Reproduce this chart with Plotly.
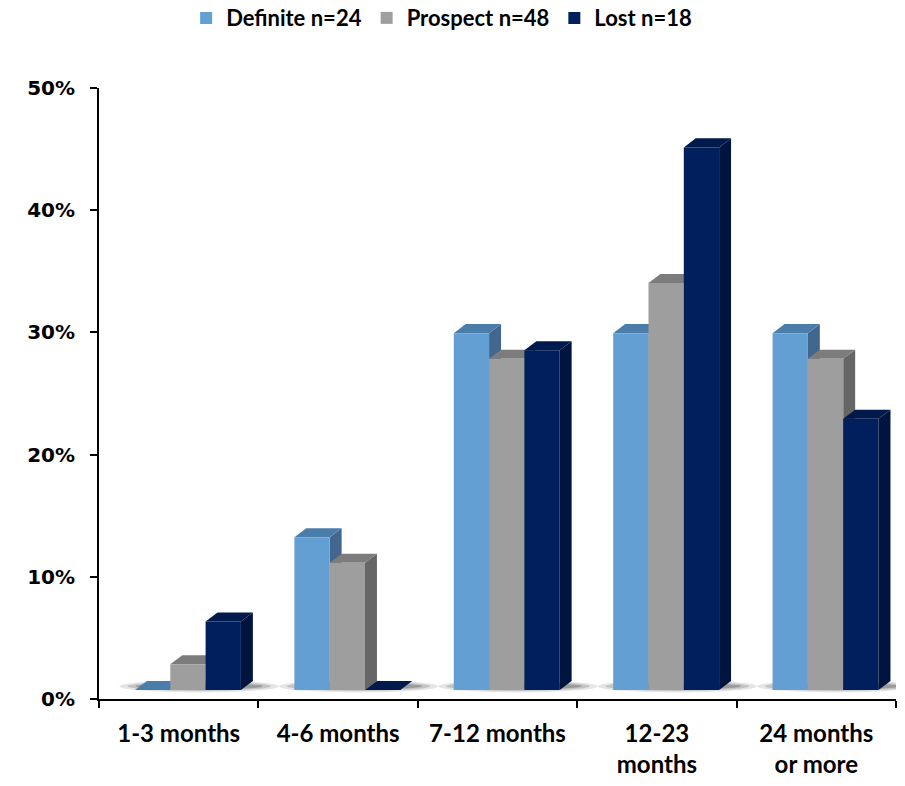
import plotly.graph_objects as go

# Share of respondents by time frame, per status group (percent)
categories = ["1-3 months", "4-6 months", "7-12 months", "12-23<br>months", "24 months<br>or more"]
series_names = ["Definite n=24", "Prospect n=48", "Lost n=18"]
definite = [0.0, 12.5, 29.2, 29.2, 29.2]
prospect = [2.1, 10.4, 27.1, 33.3, 27.1]
lost = [5.6, 0.0, 27.8, 44.4, 22.2]
y_ticks = [0, 10, 20, 30, 40, 50]

values = [definite, prospect, lost]
front_colors = ["#649fd3", "#9e9e9e", "#001f5c"]
top_colors = ["#4b7dab", "#7c7c7c", "#001a4c"]
side_colors = ["#41678f", "#666666", "#001440"]

# pseudo-3D geometry (data units)
BAR_W = 0.2215        # width of each bar front
GROUP_SHIFT = 0.058   # fronts sit slightly right of the category centre
DEPTH_DX = 0.075      # receding depth, horizontal
DEPTH_DY = 0.74       # receding depth, vertical
FLOOR = 0.74          # floor of the bars, set back from the axis plane


def poly(pts):
    return "M " + " L ".join(f"{x:.4f},{y:.4f}" for x, y in pts) + " Z"


fig = go.Figure()
shapes = []

# soft floor shadow behind each group
for i in range(len(categories)):
    cx = i + GROUP_SHIFT + 0.07
    for hw, hh, op in [(0.50, 0.50, 0.12), (0.45, 0.38, 0.18), (0.40, 0.26, 0.26)]:
        shapes.append(dict(type="circle", xref="x", yref="y", layer="below",
                           x0=cx - hw, x1=cx + hw, y0=FLOOR + 0.3 - hh, y1=FLOOR + 0.3 + hh,
                           fillcolor="#2a2a2a", opacity=op, line=dict(width=0)))

for i in range(len(categories)):
    for s in range(3):
        xc = i + GROUP_SHIFT + (s - 1) * BAR_W
        v = values[s][i]
        xl, xr = xc - BAR_W / 2, xc + BAR_W / 2
        top = FLOOR + v
        # right side face
        if v > 0:
            shapes.append(dict(type="path", xref="x", yref="y", layer="below",
                               path=poly([(xr, FLOOR), (xr + DEPTH_DX, FLOOR + DEPTH_DY),
                                          (xr + DEPTH_DX, top + DEPTH_DY), (xr, top)]),
                               fillcolor=side_colors[s], line=dict(width=0)))
        # top face
        shapes.append(dict(type="path", xref="x", yref="y", layer="below",
                           path=poly([(xl, top), (xr, top), (xr + DEPTH_DX, top + DEPTH_DY),
                                      (xl + DEPTH_DX, top + DEPTH_DY)]),
                           fillcolor=top_colors[s], line=dict(width=0)))

# bar fronts
for s in range(3):
    xs = [i + GROUP_SHIFT + (s - 1) * BAR_W for i in range(len(categories))]
    fig.add_trace(go.Bar(x=xs, y=values[s], base=FLOOR, width=BAR_W, name=series_names[s],
                         marker=dict(color=front_colors[s], line=dict(width=0)),
                         hoverinfo="skip"))

# carrier for the category label axis
fig.add_trace(go.Scatter(x=[0], y=[0], xaxis="x2", mode="none", showlegend=False, hoverinfo="skip"))

fig.update_layout(
    width=905, height=786,
    margin=dict(l=99, r=9, t=88, b=87),
    paper_bgcolor="white", plot_bgcolor="white",
    barmode="overlay",
    shapes=shapes,
    showlegend=True,
    legend=dict(orientation="h", xref="container", yref="container", x=0.488, y=0.977,
                xanchor="center", yanchor="middle",
                font=dict(family="Lato", size=22, color="black", weight="bold"),
                itemclick=False, itemdoubleclick=False, traceorder="normal"),
    xaxis=dict(range=[-0.5, 4.5], tickmode="array", tickvals=[-0.5, 0.5, 1.5, 2.5, 3.5, 4.5],
               showticklabels=False, ticks="outside", ticklen=7, tickwidth=2, tickcolor="black",
               showline=True, linecolor="black", linewidth=2, showgrid=False, zeroline=False,
               automargin=False, fixedrange=True),
    xaxis2=dict(overlaying="x", side="bottom", range=[-0.5, 4.5], tickmode="array",
                tickvals=list(range(len(categories))), ticktext=categories, ticks="",
                showline=False, showgrid=False, zeroline=False, ticklabelstandoff=18,
                tickfont=dict(family="Lato", size=24, color="black", weight="bold"),
                automargin=False, fixedrange=True),
    yaxis=dict(range=[0, 50], tickmode="array", tickvals=y_ticks,
               ticktext=[f"{t}%" for t in y_ticks], ticks="outside", ticklen=7, tickwidth=2,
               tickcolor="black", showline=True, linecolor="black", linewidth=2,
               showgrid=False, zeroline=False, ticklabelstandoff=11,
               tickfont=dict(family="DejaVu Sans", size=20, color="black", weight="bold"),
               automargin=False, fixedrange=True),
)

fig.write_html("out.html")
